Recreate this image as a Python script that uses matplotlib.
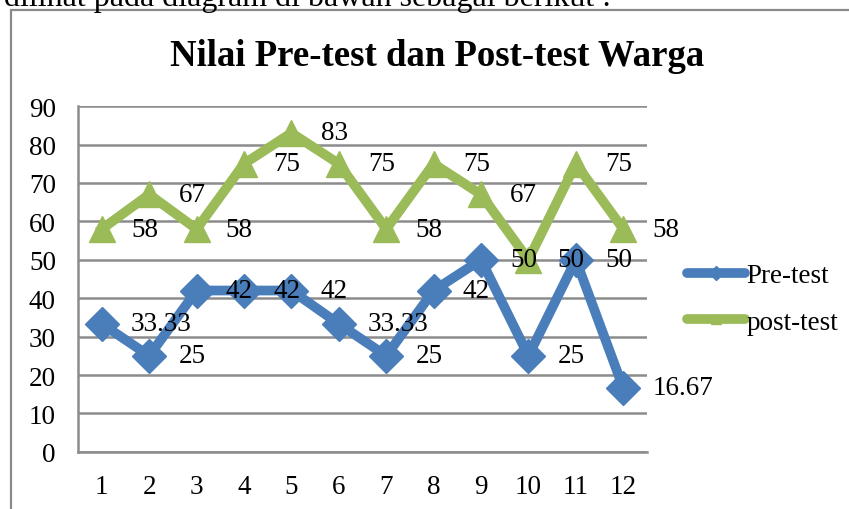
import numpy as np
import matplotlib.pyplot as plt
from matplotlib.lines import Line2D
from matplotlib.patches import Rectangle

plt.rcParams['font.family'] = ['Liberation Serif', 'DejaVu Serif']

# data
peserta = list(range(1, 13))
pre_test = [33.33, 25, 42, 42, 42, 33.33, 25, 42, 50, 25, 50, 16.67]
post_test = [58, 67, 58, 75, 83, 75, 58, 75, 67, 50, 75, 58]
pre_labels = ["33.33", "25", "42", "42", "42", "33.33", "25", "42", "50", "25", "50", "16.67"]
post_labels = ["58", "67", "58", "75", "83", "75", "58", "75", "67", "50", "75", "58"]

blue = "#4a7ebb"
green = "#9bbb59"
grid_grey = "#8c8c8c"

fig = plt.figure(figsize=(8.49, 5.10), dpi=100)
ax = fig.add_axes([0.092, 0.112, 0.670, 0.678])

# text from the document above the chart, cut off at the top
fig.text(4 / 849, 0.988, "dilihat pada diagram di bawah sebagai berikut :", fontsize=23,
         ha="left", va="baseline")
# chart frame
fig.patches.append(Rectangle((11 / 849, -0.1), 1.0, 1 - 11 / 510 + 0.1, transform=fig.transFigure,
                             fill=False, edgecolor="#8a8a8a", linewidth=1.6))

ax.plot(peserta, pre_test, color=blue, linewidth=7, marker="D", markersize=17,
        solid_joinstyle="miter", label="Pre-test", zorder=3)
ax.plot(peserta, post_test, color=green, linewidth=7, marker="^", markersize=19,
        solid_joinstyle="miter", label="post-test", zorder=3)

for x, y, t in zip(peserta, pre_test, pre_labels):
    ax.annotate(t, (x, y), xytext=(21, 0), textcoords="offset points",
                ha="left", va="center", fontsize=19.5, zorder=4)
for x, y, t in zip(peserta, post_test, post_labels):
    ax.annotate(t, (x, y), xytext=(21, 0), textcoords="offset points",
                ha="left", va="center", fontsize=19.5, zorder=4)

ax.set_xlim(0.5, 12.5)
ax.set_ylim(0, 90)
ax.set_yticks(range(0, 91, 10))
ax.set_xticks(peserta)
ax.tick_params(length=0, labelsize=19.5)
ax.tick_params(axis="y", pad=16)
ax.tick_params(axis="x", pad=16)
ax.yaxis.grid(True, color=grid_grey, linewidth=1.8)
ax.set_axisbelow(True)
for s in ["top", "right"]:
    ax.spines[s].set_visible(False)
for s in ["left", "bottom"]:
    ax.spines[s].set_color(grid_grey)
    ax.spines[s].set_linewidth(1.8)

fig.text(0.515, 0.89, "Nilai Pre-test dan Post-test Warga", fontsize=26.5,
         fontweight="bold", ha="center", va="center")

handles = [Line2D([0], [0], color=blue, linewidth=7, marker="D", markersize=7, solid_capstyle="round"),
           Line2D([0], [0], color=green, linewidth=7, marker="^", markersize=7, solid_capstyle="round")]
fig.legend(handles, ["Pre-test", "post-test"], loc="center left", bbox_to_anchor=(0.796, 0.412),
           frameon=False, fontsize=19.5, handlelength=2.15, handletextpad=0.05, labelspacing=0.8,
           borderaxespad=0)

fig.savefig("out.png", dpi=100)
